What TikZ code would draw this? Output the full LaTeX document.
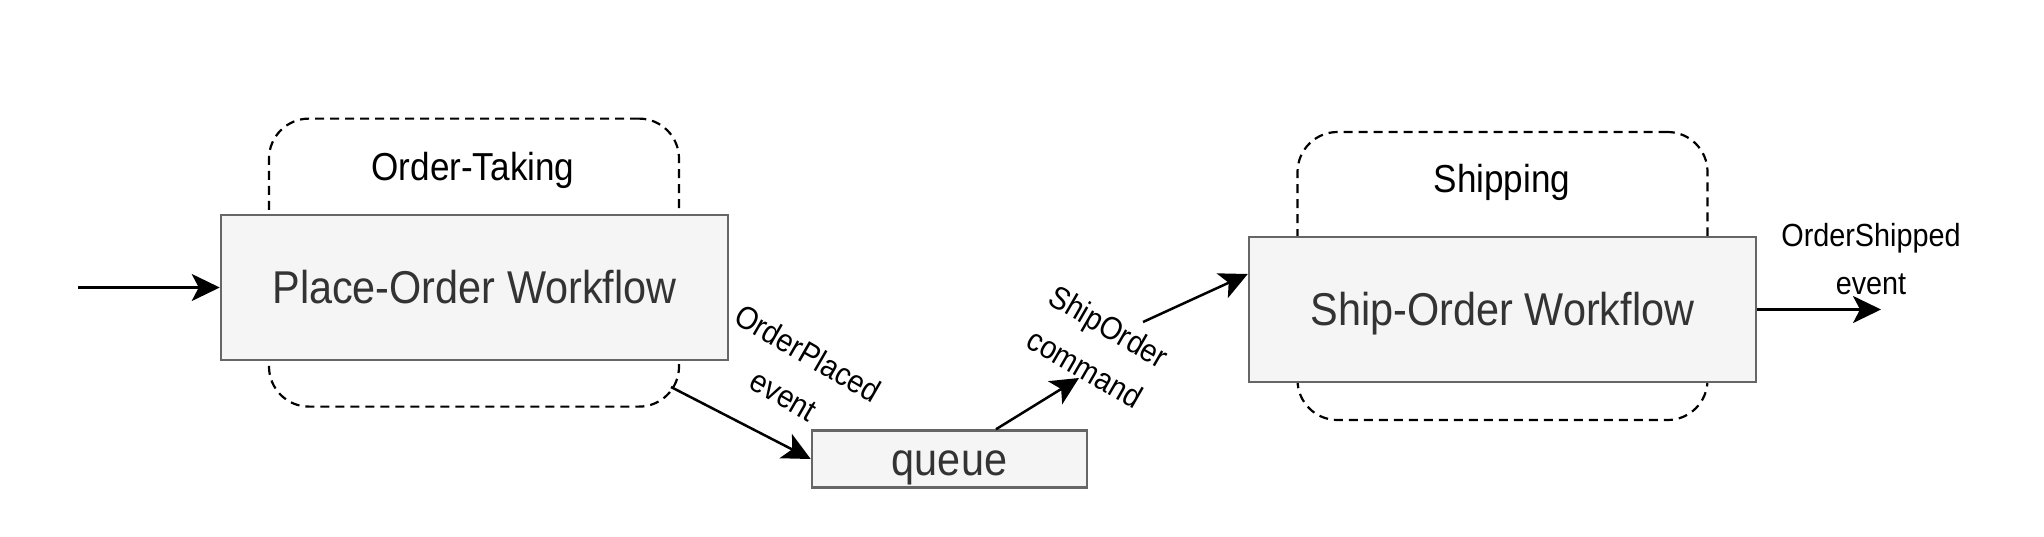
\documentclass[tikz,border=0pt]{standalone}
\usepackage{fontspec}
\setmainfont{Liberation Sans}[FakeStretch=0.9]
\usetikzlibrary{arrows.meta}
\definecolor{boxgray}{HTML}{666666}
\definecolor{boxfill}{HTML}{F5F5F5}
\definecolor{textgray}{HTML}{333333}
\begin{document}
\begin{tikzpicture}[x=1pt,y=-1pt,
 wf/.style={draw=boxgray, fill=boxfill, line width=2.5pt, text=textgray, minimum width=507pt, minimum height=145pt, inner sep=0pt, text height=32pt, text depth=0pt, font=\fontsize{46}{55}\selectfont},
 ctx/.style={draw=black, dash pattern=on 9pt off 6pt, line width=2.2pt, rounded corners=40pt, minimum width=410pt, minimum height=288pt, inner sep=0pt},
 conn/.style={line width=2.5pt, -{Stealth[length=28pt,width=27pt,inset=7pt]}},
 lbl/.style={font=\fontsize{32}{48}\selectfont, align=center, inner sep=0pt},
 ctxlbl/.style={font=\fontsize{39}{47}\selectfont, inner sep=0pt}]
\useasboundingbox (0,0) rectangle (2044,536);
% contexts
\node[ctx] (otc) at (474,262.6) {};
\node[ctxlbl] (otl) at (473,170) {Order-Taking};
\node[wf] (pow) at (474.5,287.5) {Place-Order Workflow};
\node[ctx] (shc) at (1502.5,276) {};
\node[ctxlbl] (shl) at (1502,182) {Shipping};
\node[wf] (sow) at (1502.5,309.5) {Ship-Order Workflow};
\node[wf, minimum width=275pt, minimum height=57pt] (q) at (949.5,459) {queue};
% connectors
\coordinate (in) at (78,287.5);
\draw[conn] (in) -- (pow.west);
\coordinate (a1) at (671,387);
\draw[conn] (a1) -- (q.west);
\coordinate (b1) at (1079,378);
\draw[conn] ([xshift=46.5pt]q.north) -- (b1);
\coordinate (c1) at (1143,322);
\draw[conn] (c1) -- ([yshift=35.5pt]sow.west);
\coordinate (out) at (1881,309.5);
\draw[conn] (sow.east) -- (out);
% labels
\node[lbl, rotate=-30] (opl) at (796,374) {OrderPlaced\\event};
\node[lbl, rotate=-30] (sol) at (1097,347) {ShipOrder\\command};
\node[lbl] (osl) at (1871,259) {OrderShipped\\event};
\end{tikzpicture}
\end{document}
